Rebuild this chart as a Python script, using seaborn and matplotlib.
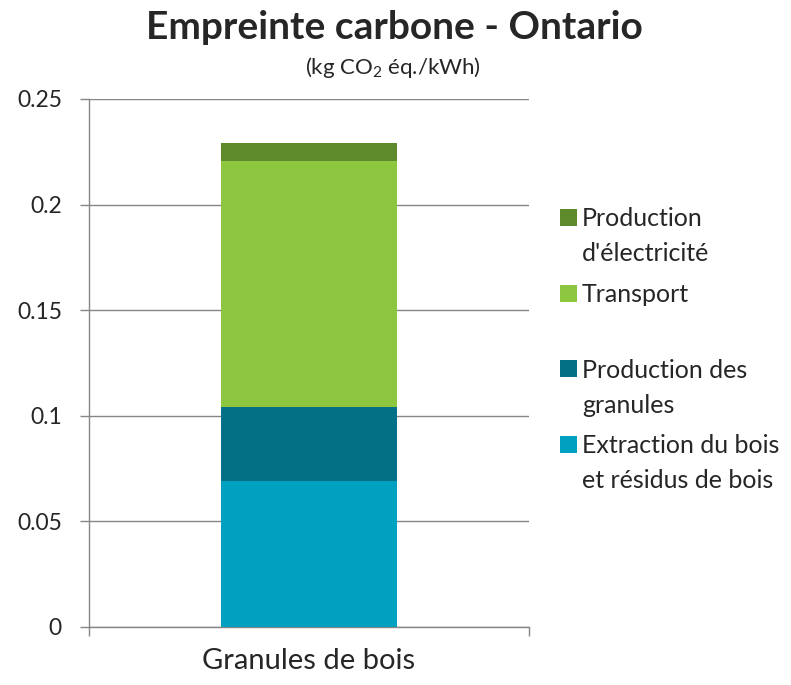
import matplotlib
matplotlib.use("Agg")
import matplotlib.pyplot as plt
import pandas as pd
import seaborn as sns
from matplotlib.container import BarContainer
from matplotlib.legend_handler import HandlerPatch
from matplotlib.patches import Rectangle
from matplotlib.ticker import FuncFormatter, FixedLocator

# Data (kg CO2 eq./kWh)
category = "Granules de bois"
stages = ["Extraction du bois\net résidus de bois", "Production des\ngranules",
          "Transport", "Production\nd'électricité"]
values = [0.0691, 0.0351, 0.1165, 0.0085]
colors = ["#00A0C0", "#037085", "#8DC63F", "#5E8A2B"]

sns.set_style("white")
plt.rcParams["font.family"] = ["Lato", "DejaVu Sans"]
plt.rcParams["mathtext.default"] = "regular"

df = pd.DataFrame({"stage": stages, "value": values, "color": colors})
df["total"] = df["value"].cumsum()
df["category"] = category


class FirstLinePatch(HandlerPatch):
    """Legend square lined up with the first line of a two-line label."""
    shift = 14.0

    def create_artists(self, legend, orig_handle, xdescent, ydescent,
                       width, height, fontsize, trans):
        fc = orig_handle.patches[0].get_facecolor()
        p = Rectangle((-xdescent, -ydescent + self.shift), width, height,
                      facecolor=fc, linewidth=0)
        p.set_transform(trans)
        return [p]


fig = plt.figure(figsize=(7.91, 6.85), dpi=100)
ax = fig.add_axes([0.1125, 0.0847, 0.5562, 0.7708])

# stacked bar: draw cumulative totals from the top segment down
for _, row in df.iloc[::-1].iterrows():
    sns.barplot(x=[row["category"]], y=[row["total"]], color=row["color"],
                saturation=1, width=0.402, label=row["stage"], linewidth=0,
                ax=ax, zorder=3)

ax.set_xlim(-0.5, 0.5)
ax.set_ylim(0, 0.25)
ax.set_yticks([0, 0.05, 0.1, 0.15, 0.2, 0.25])
ax.yaxis.set_major_formatter(FuncFormatter(lambda v, p: f"{v:g}"))
ax.grid(axis="y", color="#868686", linewidth=1, zorder=0)
ax.grid(axis="x", visible=False)
ax.set_axisbelow(True)

for s in ["top", "right"]:
    ax.spines[s].set_visible(False)
for s in ["left", "bottom"]:
    ax.spines[s].set_color("#868686")
    ax.spines[s].set_linewidth(1)

ax.tick_params(axis="y", direction="out", length=6.5, width=1, color="#868686",
               labelsize=16.5, pad=13, left=True)
ax.tick_params(axis="x", which="major", length=0, labelsize=21, pad=15)
ax.xaxis.set_minor_locator(FixedLocator([-0.5, 0.5]))
ax.tick_params(axis="x", which="minor", direction="out", length=6.5, width=1,
               color="#868686", bottom=True)
ax.set_xlabel("")
ax.set_ylabel("")

handles, labels = ax.get_legend_handles_labels()
labels = [lab if "\n" in lab else lab + "\n " for lab in labels]
leg = ax.legend(handles, labels, loc="upper left", bbox_to_anchor=(1.071, 0.795),
                frameon=False, fontsize=18, handlelength=0.67, handleheight=0.67,
                handletextpad=0.2, labelspacing=0.7, borderpad=0,
                borderaxespad=0, handler_map={BarContainer: FirstLinePatch()})
for t in leg.get_texts():
    t.set_linespacing(1.64)

fig.text(0.498, 0.96, "Empreinte carbone - Ontario", ha="center", va="center",
         fontsize=28, fontweight="bold")
fig.text(0.497, 0.901, "(kg CO$_2$ éq./kWh)", ha="center", va="center",
         fontsize=16)

plt.savefig("out.png", dpi=100)
plt.close()
